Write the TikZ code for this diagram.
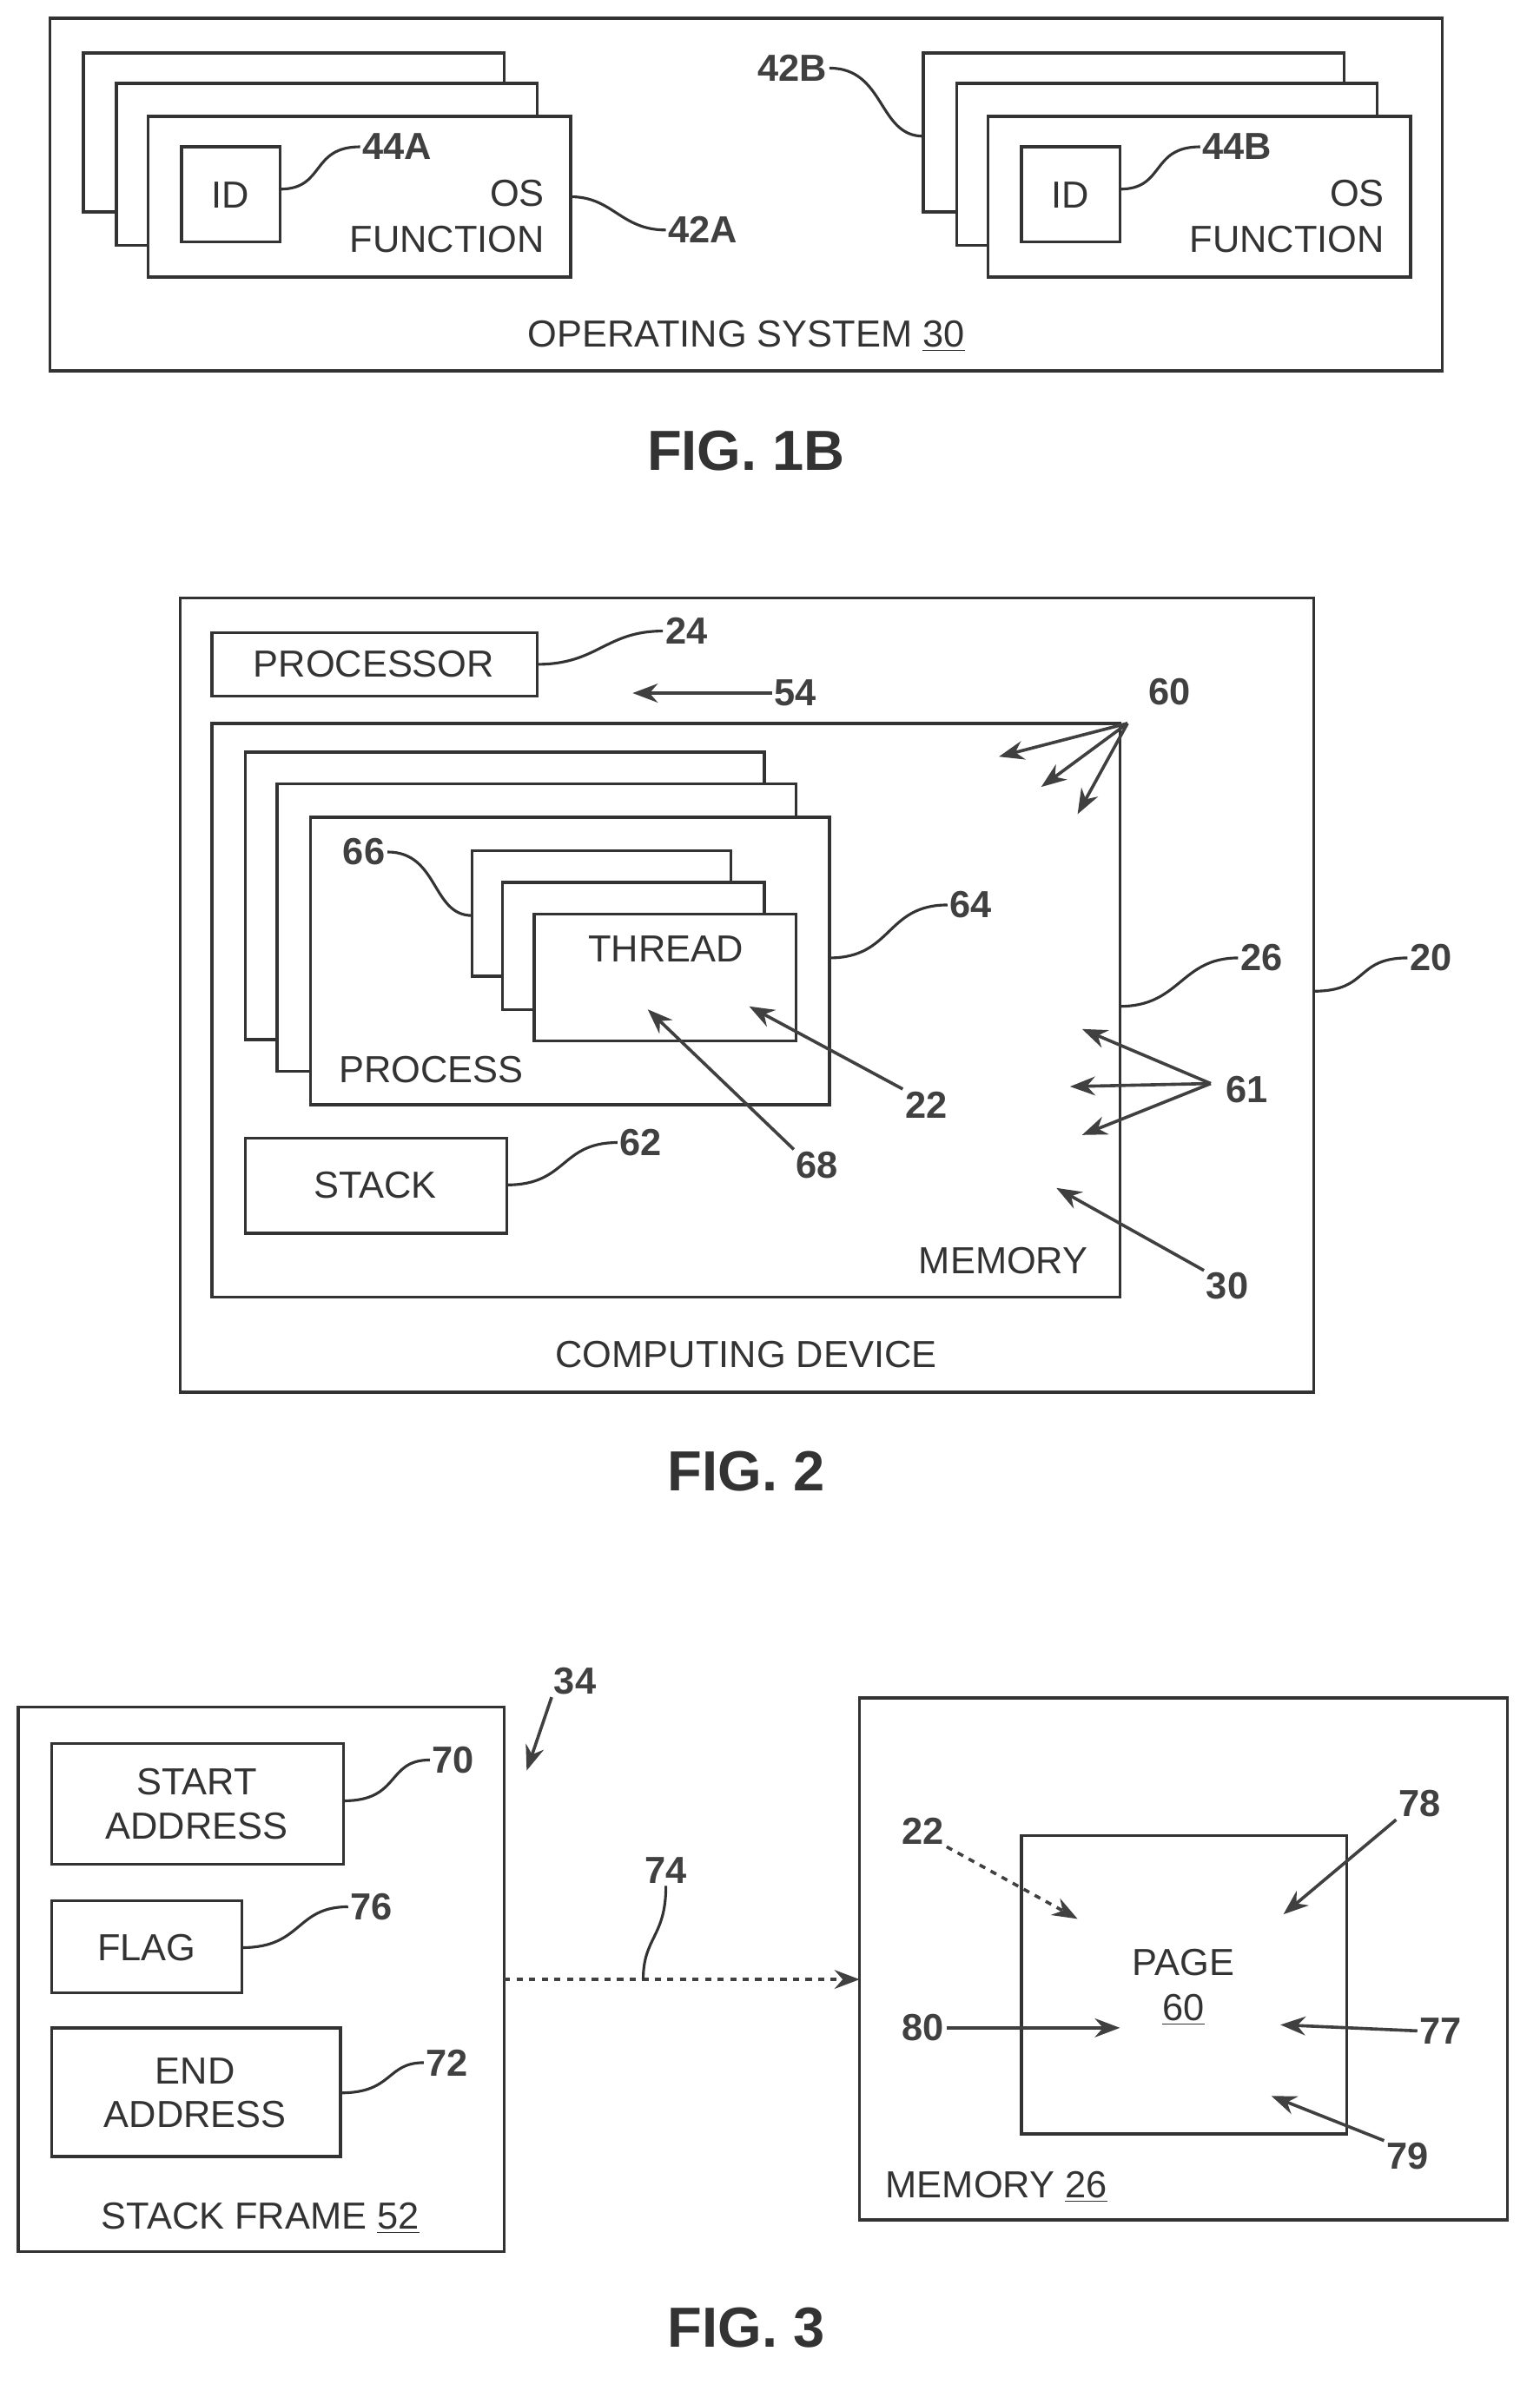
\documentclass[tikz,border=0pt]{standalone}
\usepackage{fontspec}
\setmainfont{Liberation Sans}
\usetikzlibrary{arrows.meta}
\begin{document}
\begin{tikzpicture}[x=0.0254cm,y=-0.0254cm,
  box/.style={draw=black!80,line width=1.4pt,fill=white},
  t/.style={font=\fontsize{18}{21}\selectfont,text=black!80,inner sep=0pt,align=center},
  n/.style={font=\fontsize{18}{21}\selectfont\bfseries,text=black!75,inner sep=1pt},
  fig/.style={font=\fontsize{27}{30}\selectfont\bfseries,text=black!80},
  ld/.style={draw=black!80,line width=1.3pt},
  ar/.style={draw=black!75,line width=1.5pt,-{Stealth[length=12pt,width=9pt]}},
  dar/.style={ar,dashed}]
\useasboundingbox (0,0) rectangle (1017,1580);
% FIG 1B
\draw[box] (33,12) rectangle (953,245);
\foreach \x/\s in {0/A,555/B}{
 \draw[box] (55+\x,35) rectangle (333+\x,140);
 \draw[box] (77+\x,55) rectangle (355+\x,162);
 \draw[box] (98+\x,77) rectangle (377+\x,183);
 \draw[box] (120+\x,97) rectangle (185+\x,160);
 \node[t] at (152+\x,129) {ID};
 \node[t,anchor=east] at (360+\x,128) {OS};
 \node[t,anchor=east] at (360+\x,158) {FUNCTION};
 \node[n,anchor=west] (l44\s) at (238+\x,97) {44\s};
 \draw[ld] (185+\x,125) .. controls (215+\x,125) and (205+\x,97) .. (l44\s.west);
}
\node[n,anchor=west] (l42A) at (440,152) {42A};
\draw[ld] (377,130) .. controls (405,130) and (410,152) .. (l42A.west);
\node[n,anchor=east] (l42B) at (548,45) {42B};
\draw[ld] (l42B.east) .. controls (585,45) and (580,90) .. (610,90);
\node[t] at (493,222) {OPERATING SYSTEM \underline{30}};
\node[fig] at (493,298) {FIG. 1B};
% FIG 2
\draw[box] (119,395) rectangle (868,920);
\draw[box] (140,418) rectangle (355,460); \node[t] at (247,439) {PROCESSOR};
\node[n,anchor=west] (l24) at (438,417) {24};
\draw[ld] (355,439) .. controls (395,439) and (400,417) .. (l24.west);
\node[n,anchor=west] (l54) at (510,458) {54};
\draw[ar] (l54.west) -- (418,458);
\draw[box] (140,478) rectangle (740,857);
\draw[box] (162,497) rectangle (505,687);
\draw[box] (183,518) rectangle (526,708);
\draw[box] (205,540) rectangle (548,730);
\draw[box] (312,562) rectangle (483,645);
\draw[box] (332,583) rectangle (505,667);
\draw[box] (353,604) rectangle (526,688);
\node[t] at (440,627) {THREAD};
\node[t] at (285,707) {PROCESS};
\node[n,anchor=east] (l66) at (256,563) {66};
\draw[ld] (l66.east) .. controls (290,563) and (285,605) .. (312,605);
\node[n,anchor=west] (l64) at (626,598) {64};
\draw[ld] (548,633) .. controls (590,633) and (585,598) .. (l64.west);
\node[n] (l22) at (612,730) {22};
\draw[ar] (l22.north west) -- (495,665);
\node[n] (l68) at (540,770) {68};
\draw[ar] (l68.north west) -- (428,667);
\draw[box] (162,752) rectangle (335,815); \node[t] at (248,783) {STACK};
\node[n,anchor=west] (l62) at (408,755) {62};
\draw[ld] (335,783) .. controls (375,783) and (370,755) .. (l62.west);
\node[t] at (663,833) {MEMORY};
\node[n,anchor=west] (l26) at (818,633) {26};
\draw[ld] (740,665) .. controls (780,665) and (780,633) .. (l26.west);
\node[n,anchor=west] (l20) at (930,633) {20};
\draw[ld] (868,655) .. controls (905,655) and (895,633) .. (l20.west);
\node[n] (l60) at (773,457) {60};
\coordinate (p60) at (745,478);
\foreach \p in {(660,500),(688,520),(712,538)} \draw[ar] (p60) -- \p;
\node[n] (l61) at (824,720) {61};
\coordinate (p61) at (800,716);
\foreach \p in {(715,680),(707,718),(715,750)} \draw[ar] (p61) -- \p;
\node[n] (l30) at (811,850) {30};
\draw[ar] (l30.north west) -- (698,785);
\node[t] at (493,895) {COMPUTING DEVICE};
\node[fig] at (493,972) {FIG. 2};
% FIG 3
\draw[box] (12,1128) rectangle (333,1488);
\draw[box] (34,1152) rectangle (227,1232); \node[t] at (130,1192) {START\\ADDRESS};
\draw[box] (34,1256) rectangle (160,1317); \node[t] at (97,1287) {FLAG};
\draw[box] (34,1340) rectangle (225,1425); \node[t] at (129,1383) {END\\ADDRESS};
\node[n,anchor=west] (l70) at (284,1163) {70};
\draw[ld] (227,1190) .. controls (265,1190) and (255,1163) .. (l70.west);
\node[n,anchor=west] (l76) at (230,1260) {76};
\draw[ld] (160,1287) .. controls (200,1287) and (195,1260) .. (l76.west);
\node[n,anchor=west] (l72) at (280,1363) {72};
\draw[ld] (225,1383) .. controls (260,1383) and (255,1363) .. (l72.west);
\node[t] at (172,1466) {STACK FRAME \underline{52}};
\node[n] (l34) at (380,1111) {34};
\draw[ar] (l34.south west) -- (348,1170);
\draw[box] (568,1122) rectangle (996,1467);
\draw[dar] (333,1308) -- (568,1308);
\node[n] (l74) at (440,1236) {74};
\draw[ld] (l74.south) .. controls (440,1280) and (425,1280) .. (425,1308);
\draw[box] (675,1213) rectangle (890,1410);
\node[t] at (782,1297) {PAGE};
\node[t] at (782,1328) {\underline{60}};
\node[n] (m22) at (610,1210) {22};
\draw[dar] (m22.south east) -- (712,1268);
\node[n] (l78) at (938,1192) {78};
\draw[ar] (l78.south west) -- (848,1265);
\node[n] (l80) at (610,1340) {80};
\draw[ar] (l80.east) -- (740,1340);
\node[n] (l77) at (952,1342) {77};
\draw[ar] (l77.west) -- (846,1338);
\node[n] (l79) at (930,1425) {79};
\draw[ar] (l79.north west) -- (840,1385);
\node[t,anchor=west] at (585,1445) {MEMORY \underline{26}};
\node[fig] at (493,1538) {FIG. 3};
\end{tikzpicture}
\end{document}
